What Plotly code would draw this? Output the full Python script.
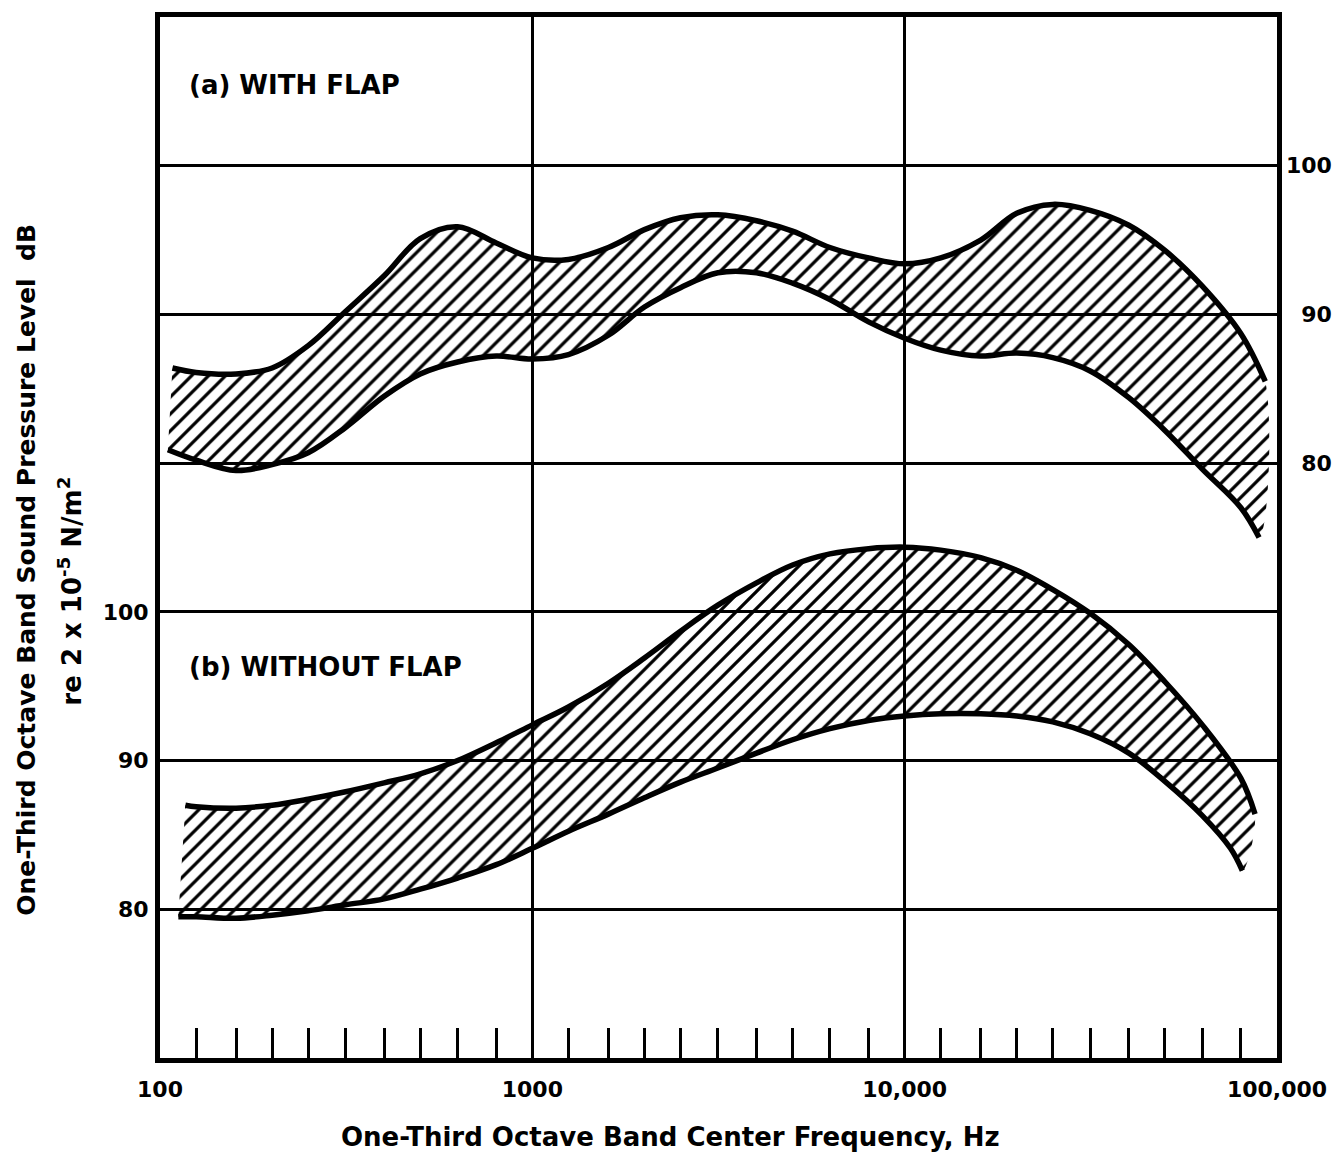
import plotly.graph_objects as go

# ---- (a) with flap: band limits, dB re 2x10^-5 N/m^2 (right-hand scale)
freq_a_upper = [108, 125, 160, 200, 250, 315, 400, 500, 630, 800, 1000, 1250, 1600,
                2000, 2500, 3150, 4000, 5000, 6300, 8000, 10000, 12500, 16000, 20000,
                25000, 31500, 40000, 50000, 63000, 80000, 93000]
spl_a_upper = [86.4, 86.1, 86.0, 86.4, 87.9, 90.2, 92.6, 95.1, 95.9, 94.8, 93.8, 93.7, 94.5,
               95.7, 96.5, 96.7, 96.3, 95.6, 94.5, 93.8, 93.4, 93.8, 95.0, 96.8,
               97.4, 97.0, 96.0, 94.3, 91.9, 88.7, 85.5]

freq_a_lower = [105, 125, 160, 200, 250, 315, 400, 500, 630, 800, 1000, 1250, 1600,
                2000, 2500, 3150, 4000, 5000, 6300, 8000, 10000, 12500, 16000, 20000,
                25000, 31500, 40000, 50000, 63000, 80000, 89500]
spl_a_lower = [80.9, 80.2, 79.5, 79.9, 80.7, 82.4, 84.5, 86.0, 86.8, 87.2, 87.0, 87.3, 88.6,
               90.5, 91.8, 92.8, 92.8, 92.1, 91.0, 89.5, 88.4, 87.6, 87.2, 87.4,
               87.1, 86.2, 84.4, 82.2, 79.6, 77.0, 75.0]

# ---- (b) without flap: band limits (left-hand scale)
freq_b_upper = [117, 125, 160, 200, 250, 315, 400, 500, 630, 800, 1000, 1250, 1600,
                2000, 2500, 3150, 4000, 5000, 6300, 8000, 10000, 12500, 16000, 20000,
                25000, 31500, 40000, 50000, 63000, 80000, 87300]
spl_b_upper = [87.0, 86.9, 86.8, 87.0, 87.4, 87.9, 88.5, 89.1, 90.0, 91.2, 92.4, 93.6, 95.2,
               96.9, 98.7, 100.45, 101.95, 103.15, 103.9, 104.25, 104.35, 104.15, 103.65, 102.8,
               101.5, 99.9, 97.8, 95.3, 92.4, 88.8, 86.4]

freq_b_lower = [112, 125, 160, 200, 250, 315, 400, 500, 630, 800, 1000, 1250, 1600,
                2000, 2500, 3150, 4000, 5000, 6300, 8000, 10000, 12500, 16000, 20000,
                25000, 31500, 40000, 50000, 63000, 75000, 80700]
spl_b_lower = [79.5, 79.5, 79.4, 79.6, 79.9, 80.3, 80.7, 81.35, 82.1, 83.0, 84.1, 85.25, 86.4,
               87.5, 88.55, 89.5, 90.5, 91.4, 92.15, 92.7, 93.0, 93.15, 93.15, 93.0,
               92.6, 91.8, 90.5, 88.6, 86.3, 84.1, 82.6]

# ---- axis ticks
x_major = [100, 1000, 10000, 100000]
x_major_text = ["100", "1000", "10,000", "100,000"]
band_centres = [125, 160, 200, 250, 315, 400, 500, 630, 800, 1000,
                1250, 1600, 2000, 2500, 3150, 4000, 5000, 6300, 8000, 10000,
                12500, 16000, 20000, 25000, 31500, 40000, 50000, 63000, 80000]
left_grid = [80, 90, 100, 110, 120, 130]
left_text = ["80", "90", "100", "", "", ""]
right_ticks = [80, 90, 100]
right_text = ["\u200780", "\u200790", "100"]

FONT = "DejaVu Sans"
INK = "black"

fig = go.Figure()


def add_band(f_up, s_up, f_lo, s_lo, yaxis):
    # hatched area: upper edge forward, lower edge back
    fig.add_trace(go.Scatter(
        x=f_up + f_lo[::-1], y=s_up + s_lo[::-1], yaxis=yaxis,
        mode="lines", line=dict(width=0, shape="spline", smoothing=1),
        fill="toself", fillcolor="rgba(0,0,0,0)",
        fillpattern=dict(shape="/", fgcolor=INK, fgopacity=1,
                         bgcolor="rgba(0,0,0,0)", size=12, solidity=0.27),
        hoverinfo="skip", showlegend=False))
    for fx, sy in ((f_up, s_up), (f_lo, s_lo)):
        fig.add_trace(go.Scatter(
            x=fx, y=sy, yaxis=yaxis, mode="lines",
            line=dict(color=INK, width=5.5, shape="spline", smoothing=1),
            showlegend=False))


add_band(freq_a_upper, spl_a_upper, freq_a_lower, spl_a_lower, "y2")
add_band(freq_b_upper, spl_b_upper, freq_b_lower, spl_b_lower, "y")

tick_font = dict(family=FONT, size=22, color=INK, weight="bold")
text_font = dict(family=FONT, size=26, color=INK, weight="bold")

fig.update_layout(
    width=1344, height=1156,
    margin=dict(l=160, r=64, t=12, b=98),
    paper_bgcolor="white", plot_bgcolor="white",
    xaxis=dict(
        type="log", range=[2, 5],
        tickvals=x_major, ticktext=x_major_text, tickfont=tick_font,
        ticks="", ticklabelstandoff=8,
        showgrid=True, gridcolor=INK, gridwidth=3,
        showline=True, linecolor=INK, linewidth=5, mirror=True,
        zeroline=False,
        minor=dict(tickvals=band_centres, ticks="inside", ticklen=30,
                   tickwidth=3, tickcolor=INK, showgrid=False),
    ),
    yaxis=dict(
        range=[70, 140], tickvals=left_grid, ticktext=left_text,
        tickfont=tick_font, ticks="", ticklabelstandoff=2,
        showgrid=True, gridcolor=INK, gridwidth=3,
        showline=True, linecolor=INK, linewidth=5, mirror=True,
        zeroline=False,
    ),
    yaxis2=dict(
        range=[40, 110], overlaying="y", side="right",
        tickvals=right_ticks, ticktext=right_text, tickfont=tick_font,
        ticks="", ticklabelstandoff=8, showgrid=False, showline=False,
        zeroline=False,
    ),
    annotations=[
        dict(text="(a) WITH FLAP", xref="paper", yref="paper", x=0.024, y=0.935,
             xanchor="left", yanchor="middle", showarrow=False, font=text_font),
        dict(text="(b) WITHOUT FLAP", xref="paper", yref="paper", x=0.024, y=0.376,
             xanchor="left", yanchor="middle", showarrow=False, font=text_font),
        dict(text="One-Third Octave Band Center Frequency, Hz", xref="paper",
             yref="paper", x=0.457, y=0, yshift=-79, xanchor="center",
             yanchor="middle", showarrow=False, font=text_font),
        dict(text="One-Third Octave Band Sound Pressure Level  dB", xref="paper",
             yref="paper", x=0, xshift=-133, y=0.469, textangle=-90,
             xanchor="center", yanchor="middle", showarrow=False,
             font=dict(family=FONT, size=25, color=INK, weight="bold")),
        dict(text="re 2 x 10<sup>-5</sup> N/m<sup>2</sup>", xref="paper",
             yref="paper", x=0, xshift=-90, y=0.448, textangle=-90,
             xanchor="center", yanchor="middle", showarrow=False, font=text_font),
    ],
)

fig.write_html("out.html")
